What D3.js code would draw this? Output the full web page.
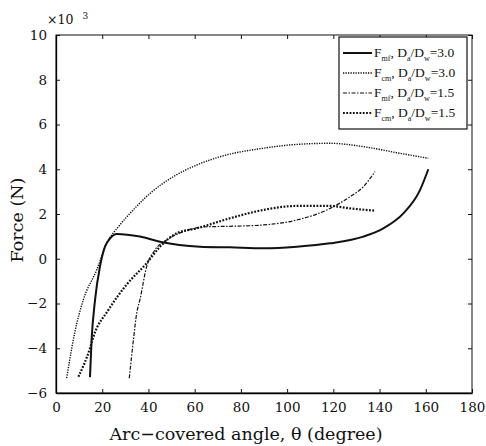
<!DOCTYPE html>
<html>
<head>
<meta charset="utf-8">
<script src="https://cdn.jsdelivr.net/npm/d3@7/dist/d3.min.js"></script>
<style>
  html, body { margin: 0; padding: 0; background: #fff; }
  svg { display: block; }
</style>
</head>
<body>
<svg id="chart" width="486" height="446"></svg>
<script>
// Force (×10^3 N) versus arc-covered angle θ (degree)
const xTicks = [0, 20, 40, 60, 80, 100, 120, 140, 160, 180];
const yTicks = [-6, -4, -2, 0, 2, 4, 6, 8, 10];
const yTickLabels = ["\u22126", "\u22124", "\u22122", "0", "2", "4", "6", "8", "10"];

// F_mf, Da/Dw = 3.0
const fmf30Angle = [14.7, 15.4, 16.9, 19.0, 21.2, 23.4, 26.3, 36.3, 45.0, 62.3, 75.3, 89.7, 104.2, 118.6, 133.0, 141.6, 150.3, 157.5, 161.1];
const fmf30Force = [-5.29, -3.63, -1.84, -0.36, 0.54, 0.91, 1.11, 0.99, 0.76, 0.54, 0.51, 0.47, 0.54, 0.69, 0.99, 1.36, 2.03, 3.07, 4.0];

// F_cm, Da/Dw = 3.0
const fcm30Angle = [4.6, 8.2, 11.8, 17.6, 21.9, 27.0, 33.4, 40.7, 50.8, 60.9, 71.0, 89.7, 104.2, 118.6, 133.0, 147.4, 161.1];
const fcm30Force = [-5.34, -3.26, -1.84, -0.5, 0.69, 1.43, 2.18, 2.92, 3.67, 4.19, 4.56, 4.94, 5.11, 5.16, 5.01, 4.74, 4.49];

// F_mf, Da/Dw = 1.5
const fmf15Angle = [31.7, 33.5, 34.9, 36.3, 39.2, 42.8, 47.9, 55.1, 65.2, 75.3, 89.7, 104.2, 118.6, 127.2, 133.0, 138.0];
const fmf15Force = [-5.34, -3.63, -2.44, -1.84, -0.36, 0.39, 0.84, 1.21, 1.43, 1.45, 1.51, 1.73, 2.25, 2.77, 3.22, 3.89];

// F_cm, Da/Dw = 1.5
const fcm15Angle = [9.7, 14.7, 16.2, 22.6, 30.6, 39.2, 45.0, 52.2, 60.9, 75.3, 89.7, 104.2, 118.6, 127.2, 138.0];
const fcm15Force = [-5.27, -4.0, -3.48, -2.3, -1.15, -0.2, 0.54, 1.14, 1.36, 1.81, 2.18, 2.36, 2.36, 2.25, 2.15];

const seriesNames = [
  { f: "mf", v: "3.0" },
  { f: "cm", v: "3.0" },
  { f: "mf", v: "1.5" },
  { f: "cm", v: "1.5" }
];

const styles = [
  { width: 2.0, dash: null },
  { width: 1.4, dash: "1.3,1.2" },
  { width: 1.2, dash: "4,1.5,1.5,1.5" },
  { width: 2.2, dash: "1.8,1.5" }
];

const series = [
  d3.zip(fmf30Angle, fmf30Force),
  d3.zip(fcm30Angle, fcm30Force),
  d3.zip(fmf15Angle, fmf15Force),
  d3.zip(fcm15Angle, fcm15Force)
];

const svg = d3.select("#chart");
const plotL = 56, plotR = 472, plotT = 35, plotB = 393;

const x = d3.scaleLinear().domain([0, 180]).range([plotL, plotR]);
const y = d3.scaleLinear().domain([-6, 10]).range([plotB, plotT]);

const serif = "'DejaVu Serif', 'Liberation Serif', serif";

// frame
svg.append("rect")
  .attr("x", plotL).attr("y", plotT)
  .attr("width", plotR - plotL).attr("height", plotB - plotT)
  .attr("fill", "none").attr("stroke", "#111").attr("stroke-width", 1);

// bottom axis (ticks pointing inward)
const xAxis = svg.append("g")
  .attr("transform", `translate(0,${plotB})`)
  .call(d3.axisBottom(x).tickValues(xTicks).tickSizeInner(-4).tickSizeOuter(0).tickPadding(9));
xAxis.select(".domain").attr("stroke", "#000").attr("stroke-width", 1.3);
xAxis.selectAll("text").attr("font-family", serif).attr("font-size", 13.5).attr("fill", "#111");

// top ticks
svg.append("g")
  .attr("transform", `translate(0,${plotT})`)
  .call(d3.axisTop(x).tickValues(xTicks).tickSizeInner(-4).tickSizeOuter(0).tickFormat(""))
  .select(".domain").remove();

// left axis
const yAxis = svg.append("g")
  .attr("transform", `translate(${plotL},0)`)
  .call(d3.axisLeft(y).tickValues(yTicks).tickSizeInner(-4).tickSizeOuter(0).tickPadding(9)
    .tickFormat((d, i) => yTickLabels[i]));
yAxis.select(".domain").attr("stroke", "#000").attr("stroke-width", 1.3);
yAxis.selectAll("text").attr("font-family", serif).attr("font-size", 13.5).attr("fill", "#111");

// right ticks
svg.append("g")
  .attr("transform", `translate(${plotR},0)`)
  .call(d3.axisRight(y).tickValues(yTicks).tickSizeInner(-4).tickSizeOuter(0).tickFormat(""))
  .select(".domain").remove();

svg.selectAll(".tick line").attr("stroke", "#111");

// exponent note
const expo = svg.append("text")
  .attr("x", 47).attr("y", 24)
  .attr("font-family", serif).attr("font-size", 12.5).attr("fill", "#111");
expo.append("tspan").text("\u00d710");
expo.append("tspan").attr("dx", 9).attr("dy", -5).attr("font-size", 9).text("3");

// axis titles
svg.append("text")
  .attr("x", 246).attr("y", 440)
  .attr("text-anchor", "middle")
  .attr("font-family", serif).attr("font-size", 17.5).attr("fill", "#111")
  .text("Arc\u2212covered angle, \u03b8 (degree)");

svg.append("text")
  .attr("transform", "translate(23,220) rotate(-90)")
  .attr("text-anchor", "middle")
  .attr("font-family", serif).attr("font-size", 17.5).attr("fill", "#111")
  .text("Force (N)");

// curves
const line = d3.line()
  .x(d => x(d[0]))
  .y(d => y(d[1]))
  .curve(d3.curveMonotoneX);

svg.append("g").selectAll("path")
  .data(series)
  .join("path")
  .attr("d", line)
  .attr("fill", "none")
  .attr("stroke", "#111")
  .attr("stroke-width", (d, i) => styles[i].width)
  .attr("stroke-dasharray", (d, i) => styles[i].dash);

// legend
const lg = svg.append("g");
lg.append("rect")
  .attr("x", 339).attr("y", 37).attr("width", 128).attr("height", 92)
  .attr("fill", "#fff").attr("stroke", "#111").attr("stroke-width", 1.2);

const legendFont = "'Liberation Serif', 'DejaVu Serif', serif";
seriesNames.forEach((s, i) => {
  const cy = 53 + i * 20;
  lg.append("line")
    .attr("x1", 343).attr("x2", 372).attr("y1", cy).attr("y2", cy)
    .attr("stroke", "#111")
    .attr("stroke-width", styles[i].width)
    .attr("stroke-dasharray", styles[i].dash);
  const t = lg.append("text")
    .attr("x", 374).attr("y", cy + 4)
    .attr("font-family", legendFont).attr("font-size", 13.5).attr("fill", "#111");
  t.append("tspan").text("F");
  t.append("tspan").attr("dy", 4).attr("font-size", 8).text(s.f);
  t.append("tspan").attr("dy", -4).text(", D");
  t.append("tspan").attr("dy", 4).attr("font-size", 8).text("a");
  t.append("tspan").attr("dy", -4).text("/D");
  t.append("tspan").attr("dy", 4).attr("font-size", 8).text("w");
  t.append("tspan").attr("dy", -4).text("=" + s.v);
});
</script>
</body>
</html>
